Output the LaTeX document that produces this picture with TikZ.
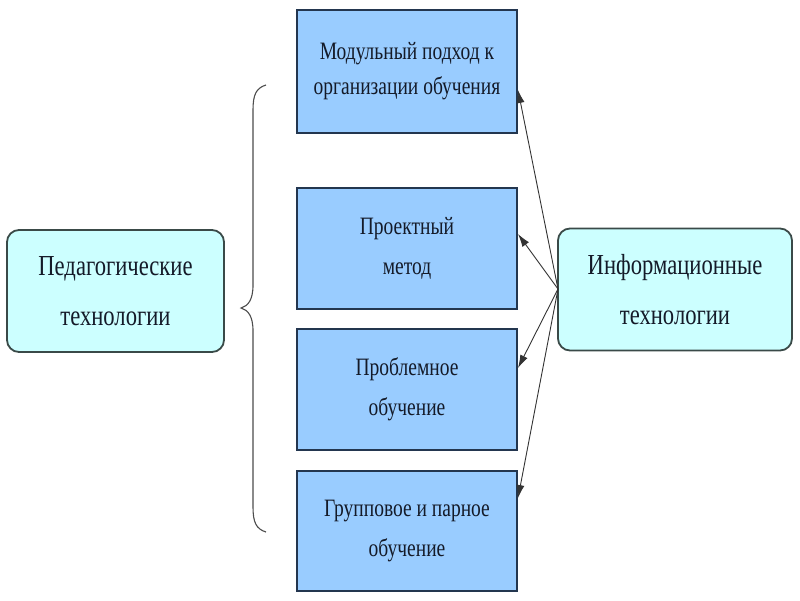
\documentclass[tikz,border=0pt]{standalone}
\usepackage{fontspec}
\setmainfont{Liberation Serif}[FakeStretch=0.78]
\usetikzlibrary{arrows.meta,decorations.pathreplacing}
\definecolor{midfill}{HTML}{99CCFF}
\definecolor{sidefill}{HTML}{CCFFFF}
\definecolor{edgecol}{HTML}{23364F}
\definecolor{sideedge}{HTML}{3A4A48}
\definecolor{txt}{HTML}{141A28}
\tikzset{
  midbox/.style={draw=edgecol, line width=1.8pt, fill=midfill, minimum width=220pt, align=center, text=txt, font=\fontsize{25}{40}\selectfont, inner sep=0pt},
  sidebox/.style={draw=sideedge, line width=1.8pt, fill=sidefill, rounded corners=12pt, align=center, text=txt, font=\fontsize{29}{50}\selectfont, inner sep=0pt},
  conn/.style={draw=black!80, line width=0.9pt, -{Latex[length=13pt,width=8pt]}},
}
\begin{document}
\begin{tikzpicture}[x=1pt,y=-1pt]
\path[fill=white] (0,0) rectangle (800,600);
\useasboundingbox (0,0) rectangle (800,600);
\node[midbox, minimum height=123pt] (m1) at (407,71.5) {Модульный подход к\\[-5pt]организации обучения};
\node[midbox, minimum height=121pt] (m2) at (407,248.5) {Проектный\\метод};
\node[midbox, minimum height=121pt] (m3) at (407,389.5) {Проблемное\\обучение};
\node[midbox, minimum height=120pt] (m4) at (407,531) {Групповое и парное\\обучение};
\node[sidebox, minimum width=217pt, minimum height=122pt] (ped) at (115.5,291) {Педагогические\\технологии};
\node[sidebox, minimum width=234pt, minimum height=122pt] (inf) at (675,289.5) {Информационные\\технологии};
\coordinate (src) at (558,289);
\coordinate (t1) at (518,90);
\coordinate (t2) at (518,234);
\coordinate (t3) at (518,368);
\coordinate (t4) at (518,498);
\draw[conn] (src) -- (t1);
\draw[conn] (src) -- (t2);
\draw[conn] (src) -- (t3);
\draw[conn] (src) -- (t4);
\coordinate (btop) at (266,85);
\coordinate (bbot) at (266,532);
\draw[draw=black!70, line width=1.1pt] (btop) .. controls (256,88) and (253,95) .. (253,110)
  -- (253,285) .. controls (253,300) and (248,306) .. (241,308)
  .. controls (248,310) and (253,316) .. (253,331)
  -- (253,507) .. controls (253,522) and (256,529) .. (bbot);
\end{tikzpicture}
\end{document}
